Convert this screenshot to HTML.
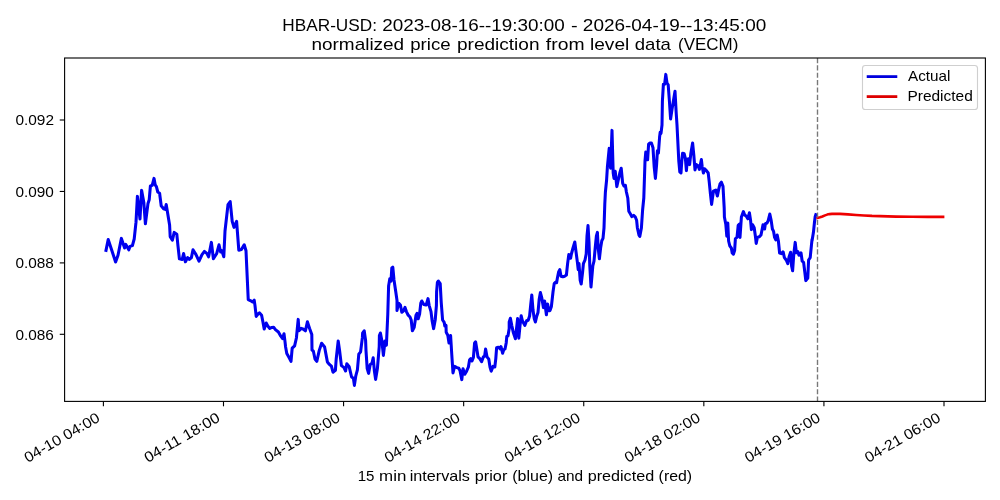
<!DOCTYPE html>
<html><head><meta charset="utf-8"><title>chart</title>
<style>
html,body{margin:0;padding:0;background:#fff;}
svg{display:block;will-change:transform;}
text{font-family:"Liberation Sans",sans-serif;fill:#000;}
</style></head><body>
<svg width="1000" height="500" viewBox="0 0 1000 500">
<rect x="0" y="0" width="1000" height="500" fill="#ffffff"/>
<g>
<text x="282.39" y="31" font-size="17.0" textLength="94.58" lengthAdjust="spacingAndGlyphs">HBAR-USD:</text>
<text x="382.15" y="31" font-size="17.0" textLength="182.59" lengthAdjust="spacingAndGlyphs">2023-08-16--19:30:00</text>
<text x="570.91" y="31" font-size="17.0" textLength="6.68" lengthAdjust="spacingAndGlyphs">-</text>
<text x="582.85" y="31" font-size="17.0" textLength="183.39" lengthAdjust="spacingAndGlyphs">2026-04-19--13:45:00</text>
<text x="311.44" y="50" font-size="17.0" textLength="92.73" lengthAdjust="spacingAndGlyphs">normalized</text>
<text x="410.20" y="50" font-size="17.0" textLength="40.38" lengthAdjust="spacingAndGlyphs">price</text>
<text x="456.97" y="50" font-size="17.0" textLength="82.56" lengthAdjust="spacingAndGlyphs">prediction</text>
<text x="545.83" y="50" font-size="17.0" textLength="38.65" lengthAdjust="spacingAndGlyphs">from</text>
<text x="590.01" y="50" font-size="17.0" textLength="39.26" lengthAdjust="spacingAndGlyphs">level</text>
<text x="634.72" y="50" font-size="17.0" textLength="36.18" lengthAdjust="spacingAndGlyphs">data</text>
<text x="678.00" y="50" font-size="17.0" textLength="60.36" lengthAdjust="spacingAndGlyphs">(VECM)</text>
</g>
<clipPath id="c"><rect x="64.6" y="58.0" width="920.8" height="343.4"/></clipPath>
<g clip-path="url(#c)" fill="none" stroke-linejoin="round" stroke-linecap="square">
<polyline stroke="#0000ee" stroke-width="3.05" points="106.0,250.4 108.2,239.6 112.0,251.0 115.6,262.0 118.0,255.2 121.4,238.4 124.6,248.0 125.8,244.4 128.8,249.8 130.0,246.4 132.4,245.6 134.2,239.0 136.0,222.2 137.4,196.4 140.0,219.0 141.6,190.4 143.8,202.2 145.4,223.8 148.0,203.4 149.2,199.8 150.4,186.0 152.2,185.4 154.0,178.4 155.2,184.8 156.4,186.6 157.8,192.0 159.6,193.2 161.2,205.8 163.6,208.8 165.2,209.4 166.2,204.6 167.2,210.6 169.6,225.0 170.2,236.6 172.4,240.2 174.2,232.4 176.8,234.2 178.0,246.2 179.4,258.8 182.2,259.4 183.6,253.6 185.4,261.8 187.6,257.6 189.4,259.4 191.4,257.6 193.0,249.8 196.0,254.6 199.0,261.2 202.0,254.6 204.4,251.4 206.8,253.4 208.6,256.8 211.4,242.4 213.4,258.8 216.6,253.8 219.0,244.8 220.6,252.0 221.8,250.6 223.8,256.8 225.0,231.0 228.0,204.6 230.2,201.6 232.2,221.4 234.0,227.4 236.6,221.4 238.8,250.2 241.4,249.6 244.2,244.8 246.0,250.8 248.2,298.8 248.2,299.6 250.8,300.8 252.6,302.0 254.2,300.2 255.0,305.6 256.2,316.4 258.0,314.0 259.4,312.8 261.6,315.2 262.8,321.2 264.2,329.0 266.2,323.0 267.8,326.0 269.8,328.4 271.8,327.4 273.6,327.2 275.4,329.6 278.4,332.0 280.8,336.2 282.6,338.6 284.0,333.8 285.0,341.6 285.6,347.0 286.8,353.6 289.2,357.8 291.0,361.4 292.2,348.2 294.6,345.8 296.4,338.0 298.2,319.4 299.0,330.8 301.2,328.4 303.0,329.0 305.4,330.8 307.4,321.8 309.6,328.4 311.8,334.4 312.0,350.0 313.4,351.2 315.0,359.0 316.8,361.4 319.2,350.6 321.6,343.2 324.6,347.0 326.4,356.6 327.4,362.0 329.4,364.4 331.4,366.2 333.0,372.2 335.4,370.4 336.2,359.0 338.2,341.0 339.6,350.6 341.4,365.6 343.8,367.4 345.6,371.0 346.8,363.8 349.2,366.8 351.6,377.0 353.4,378.2 354.4,385.4 355.8,375.8 357.4,369.8 358.8,354.2 360.6,351.8 362.4,337.4 362.6,333.2 364.2,330.8 365.6,340.4 366.0,350.6 367.2,368.6 368.6,373.4 370.2,364.4 372.0,363.2 373.2,357.8 374.4,371.0 375.6,379.4 377.4,368.6 379.2,347.0 379.4,335.6 380.4,333.0 381.8,340.4 383.4,355.4 385.0,341.0 386.4,345.2 387.8,314.0 388.6,286.0 389.8,278.8 391.0,281.2 391.8,268.0 392.8,267.2 394.0,280.0 395.8,292.0 397.0,300.4 397.0,310.4 398.6,303.2 400.4,305.0 401.8,312.2 403.4,311.0 405.0,307.4 406.4,311.6 408.2,315.2 410.0,317.0 411.2,320.0 412.4,330.8 414.2,327.2 416.0,315.2 417.0,313.4 418.2,318.8 419.6,314.0 420.8,303.2 421.8,301.0 423.8,304.4 426.2,305.0 428.0,298.6 429.2,305.6 431.0,311.6 432.2,321.2 433.6,328.6 435.2,320.0 436.4,305.6 436.6,292.0 437.4,282.4 438.4,281.0 440.2,283.6 441.2,302.0 442.6,320.0 444.2,322.4 444.8,326.0 446.0,325.4 446.2,332.2 447.8,335.2 449.0,343.0 450.6,335.6 451.8,355.0 453.0,373.0 454.6,366.4 457.0,367.6 458.8,368.2 460.0,370.6 461.8,379.6 463.0,368.8 464.8,374.2 466.6,371.2 468.4,367.0 469.6,359.8 470.8,358.6 472.0,361.0 473.4,357.4 474.6,343.0 475.6,341.8 476.8,349.0 478.0,356.8 479.8,358.6 481.6,361.6 483.4,356.8 484.6,356.2 485.6,349.0 487.0,356.8 488.8,359.2 490.0,367.0 491.2,371.2 493.0,366.4 494.8,367.0 495.8,358.6 496.6,347.8 498.4,347.2 500.2,349.0 501.0,346.6 502.6,353.2 503.8,349.6 505.0,349.0 506.2,343.0 506.8,336.4 508.0,335.8 509.2,328.6 509.2,322.0 510.4,318.2 511.8,325.6 513.4,332.8 515.4,338.8 516.6,328.0 517.6,318.6 518.8,338.2 520.0,325.6 521.2,315.8 522.4,320.8 524.8,325.4 526.6,320.8 528.2,320.2 529.6,316.0 530.8,304.0 531.8,295.0 533.0,310.0 534.2,318.4 535.4,322.0 536.8,316.0 538.0,312.4 539.2,299.2 540.4,292.6 541.8,298.0 543.4,307.6 544.6,301.0 545.6,308.8 546.4,314.8 547.6,304.0 548.8,310.6 550.0,310.6 551.4,306.4 553.0,292.0 554.2,283.6 555.4,282.4 556.6,282.8 557.4,278.0 558.6,272.0 559.8,269.6 561.0,276.2 562.8,276.8 564.6,276.2 566.4,275.0 567.6,263.6 568.8,254.6 570.6,258.2 571.4,254.0 573.0,248.0 574.8,242.0 576.0,251.6 577.4,262.4 578.2,269.6 579.0,263.6 580.2,280.4 581.2,284.0 582.6,272.0 583.4,263.6 585.0,260.0 586.2,254.0 587.0,236.0 588.0,225.6 589.0,242.0 589.8,266.0 591.0,287.0 592.8,266.0 594.0,261.2 595.2,248.0 596.4,236.0 597.4,232.4 598.2,248.0 599.4,258.8 600.6,248.0 601.8,240.8 603.0,238.4 604.0,228.0 604.8,204.0 605.4,192.0 606.6,180.0 607.4,167.0 609.2,148.4 610.6,168.2 612.0,130.4 613.2,173.0 614.0,178.4 615.2,171.2 616.8,186.6 619.8,173.0 621.2,168.2 622.6,182.6 622.8,183.6 624.0,186.0 625.4,185.4 626.4,192.0 627.8,198.0 628.8,211.2 630.6,214.2 631.8,216.6 633.6,215.4 635.4,217.2 636.6,220.2 637.4,228.0 639.0,235.2 639.8,236.4 641.4,228.0 642.6,210.0 643.8,198.0 645.0,161.0 645.8,152.0 647.0,153.8 647.6,159.8 648.6,144.2 650.0,143.0 651.4,143.0 653.0,147.8 654.2,167.0 655.4,178.4 656.6,164.6 657.4,150.8 658.4,153.2 659.6,137.0 660.2,132.2 661.0,133.4 662.0,125.0 662.4,101.0 663.4,84.2 664.6,84.2 665.8,74.4 667.0,83.0 668.2,84.8 669.4,101.0 670.6,119.0 672.0,109.4 673.8,98.6 675.0,91.2 676.2,113.0 677.0,125.0 677.6,137.0 678.8,161.0 679.8,171.8 681.0,173.0 681.8,161.0 682.6,153.2 684.2,153.8 685.4,158.6 686.4,170.6 687.4,159.2 689.0,158.6 689.6,164.6 690.8,153.8 692.6,143.0 693.8,155.0 695.0,170.0 696.2,164.6 698.0,165.8 699.4,169.4 700.4,164.6 701.4,159.6 702.2,167.0 703.4,173.0 704.6,168.8 706.4,170.6 708.2,173.0 709.2,181.6 710.4,193.6 711.6,204.4 713.4,191.2 715.8,190.0 717.4,196.0 718.8,188.8 720.0,184.0 721.4,182.2 723.0,186.4 724.2,208.0 724.4,217.0 725.8,224.2 726.8,236.2 727.8,223.0 728.6,241.0 729.8,245.8 731.4,248.2 732.2,253.0 733.4,254.2 734.6,250.6 735.4,238.6 737.0,237.4 738.2,225.4 739.4,224.2 740.0,237.4 741.4,217.0 743.4,211.6 744.8,215.2 746.0,215.8 747.8,218.8 749.4,212.8 750.6,220.6 751.4,229.6 752.6,224.8 754.2,227.8 755.4,236.2 756.2,243.4 757.4,237.4 759.2,236.8 761.0,235.0 762.2,229.0 763.0,224.8 764.6,229.0 765.4,223.6 767.0,223.0 768.2,220.6 769.8,214.0 771.2,220.6 772.4,229.0 773.6,231.4 774.6,237.4 775.8,239.8 777.2,235.0 778.4,241.0 779.6,253.0 781.4,253.6 783.0,251.8 783.2,252.2 784.4,257.6 786.2,260.0 787.8,263.6 789.2,256.4 790.6,252.2 791.6,266.0 792.6,270.8 793.8,254.0 795.2,242.4 796.4,252.8 797.8,251.6 799.0,255.2 801.0,252.8 802.2,261.2 803.6,262.4 804.8,272.0 805.8,280.6 807.8,278.0 808.6,260.0 810.2,257.6 811.4,245.6 812.0,239.6 812.0,241.0 813.4,232.6 814.4,223.0 815.2,216.5 815.8,214.8"/>
<polyline stroke="#ee0000" stroke-width="2.6" points="817.6,218.0 820.0,217.3 822.4,216.5 825.0,215.4 827.2,214.6 829.5,214.1 832.0,213.9 836.0,213.8 840.0,213.9 848.0,214.4 856.0,215.0 864.0,215.5 872.0,215.9 880.0,216.1 896.0,216.6 912.0,216.8 928.0,216.9 943.1,216.9"/>
<line x1="817.5" y1="58.0" x2="817.5" y2="401.45" stroke="#787878" stroke-width="1.39" stroke-dasharray="5.14 2.22" stroke-linecap="butt"/>
</g>
<rect x="64.6" y="58.0" width="920.8" height="343.4" fill="none" stroke="#000" stroke-width="1.11"/>
<g stroke="#000" stroke-width="1.11">
<line x1="103.40" y1="401.45" x2="103.40" y2="406.31"/>
<line x1="223.49" y1="401.45" x2="223.49" y2="406.31"/>
<line x1="343.57" y1="401.45" x2="343.57" y2="406.31"/>
<line x1="463.66" y1="401.45" x2="463.66" y2="406.31"/>
<line x1="583.74" y1="401.45" x2="583.74" y2="406.31"/>
<line x1="703.83" y1="401.45" x2="703.83" y2="406.31"/>
<line x1="823.92" y1="401.45" x2="823.92" y2="406.31"/>
<line x1="944.00" y1="401.45" x2="944.00" y2="406.31"/>
<line x1="59.74" y1="120.0" x2="64.6" y2="120.0"/>
<line x1="59.74" y1="191.45" x2="64.6" y2="191.45"/>
<line x1="59.74" y1="262.9" x2="64.6" y2="262.9"/>
<line x1="59.74" y1="334.3" x2="64.6" y2="334.3"/>
</g>
<text x="15.40" y="125.2" font-size="14.6" textLength="38.58" lengthAdjust="spacingAndGlyphs">0.092</text>
<text x="15.40" y="196.6" font-size="14.6" textLength="38.40" lengthAdjust="spacingAndGlyphs">0.090</text>
<text x="15.40" y="268.1" font-size="14.6" textLength="38.47" lengthAdjust="spacingAndGlyphs">0.088</text>
<text x="15.40" y="339.5" font-size="14.6" textLength="38.48" lengthAdjust="spacingAndGlyphs">0.086</text>
<text transform="translate(100.94,420.6) rotate(-30)" font-size="14.6" text-anchor="end" textLength="84.64" lengthAdjust="spacingAndGlyphs">04-10 04:00</text>
<text transform="translate(221.03,420.6) rotate(-30)" font-size="14.6" text-anchor="end" textLength="84.64" lengthAdjust="spacingAndGlyphs">04-11 18:00</text>
<text transform="translate(341.11,420.6) rotate(-30)" font-size="14.6" text-anchor="end" textLength="84.64" lengthAdjust="spacingAndGlyphs">04-13 08:00</text>
<text transform="translate(461.20,420.6) rotate(-30)" font-size="14.6" text-anchor="end" textLength="84.64" lengthAdjust="spacingAndGlyphs">04-14 22:00</text>
<text transform="translate(581.28,420.6) rotate(-30)" font-size="14.6" text-anchor="end" textLength="84.64" lengthAdjust="spacingAndGlyphs">04-16 12:00</text>
<text transform="translate(701.37,420.6) rotate(-30)" font-size="14.6" text-anchor="end" textLength="84.64" lengthAdjust="spacingAndGlyphs">04-18 02:00</text>
<text transform="translate(821.46,420.6) rotate(-30)" font-size="14.6" text-anchor="end" textLength="84.64" lengthAdjust="spacingAndGlyphs">04-19 16:00</text>
<text transform="translate(941.54,420.6) rotate(-30)" font-size="14.6" text-anchor="end" textLength="84.64" lengthAdjust="spacingAndGlyphs">04-21 06:00</text>
<text x="357.65" y="481.2" font-size="14.6" textLength="16.78" lengthAdjust="spacingAndGlyphs">15</text>
<text x="379.08" y="481.2" font-size="14.6" textLength="27.27" lengthAdjust="spacingAndGlyphs">min</text>
<text x="409.72" y="481.2" font-size="14.6" textLength="60.16" lengthAdjust="spacingAndGlyphs">intervals</text>
<text x="474.80" y="481.2" font-size="14.6" textLength="32.52" lengthAdjust="spacingAndGlyphs">prior</text>
<text x="512.31" y="481.2" font-size="14.6" textLength="40.88" lengthAdjust="spacingAndGlyphs">(blue)</text>
<text x="557.45" y="481.2" font-size="14.6" textLength="25.64" lengthAdjust="spacingAndGlyphs">and</text>
<text x="587.66" y="481.2" font-size="14.6" textLength="66.48" lengthAdjust="spacingAndGlyphs">predicted</text>
<text x="658.62" y="481.2" font-size="14.6" textLength="33.52" lengthAdjust="spacingAndGlyphs">(red)</text>
<rect x="862.5" y="65.5" width="115" height="44" rx="2.8" ry="2.8" fill="#ffffff" fill-opacity="0.8" stroke="#cfcfcf" stroke-width="1.11"/>
<line x1="868.1" y1="76.6" x2="895.9" y2="76.6" stroke="#0000dd" stroke-width="2.78" stroke-linecap="square"/>
<line x1="868.1" y1="96.6" x2="895.9" y2="96.6" stroke="#dd0000" stroke-width="2.78" stroke-linecap="square"/>
<text x="908.07" y="80.9" font-size="14.6" textLength="42.35" lengthAdjust="spacingAndGlyphs">Actual</text>
<text x="907.43" y="100.9" font-size="14.6" textLength="65.37" lengthAdjust="spacingAndGlyphs">Predicted</text>
</svg>
</body></html>
